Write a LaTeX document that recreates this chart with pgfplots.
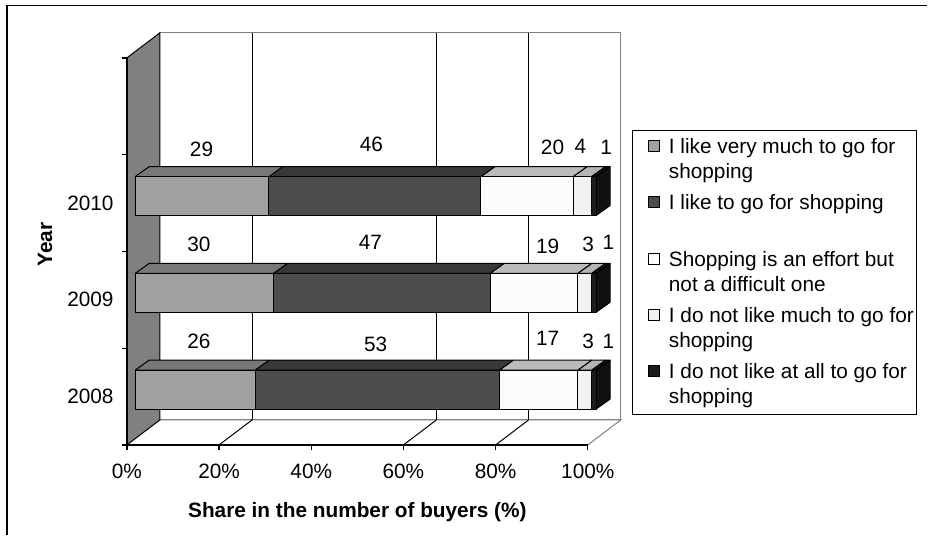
\documentclass[border=0pt]{standalone}
\usepackage{pgfplots}
\pgfplotsset{compat=1.18}
\usepackage{fontspec}
\setmainfont{Liberation Sans}

\definecolor{c1}{RGB}{160,160,160}\definecolor{c1t}{RGB}{120,120,120}
\definecolor{c2}{RGB}{77,77,77}\definecolor{c2t}{RGB}{56,56,56}
\definecolor{c3}{RGB}{252,252,252}\definecolor{c3t}{RGB}{187,187,187}
\definecolor{c4}{RGB}{242,242,242}\definecolor{c4t}{RGB}{180,180,180}
\definecolor{c5}{RGB}{28,28,28}\definecolor{c5t}{RGB}{17,17,17}
\definecolor{wallgray}{RGB}{128,128,128}

\newcommand\fnt{\fontsize{12.5}{15}\selectfont}
\newcommand\hrow[1]{\rule{0pt}{#1}}

\def\myxo{1.8}\def\mybs{0.072}\def\mybw{0.402}\def\mytdx{3.035}\def\mytdy{0.103}
\def\myDX{7.15}\def\myDY{0.258}

% top face of a segment: #1 category, #2 start, #3 end (cumulative), #4 colour
\newcommand\topface[4]{%
  \filldraw[fill=#4, draw=black, line width=0.6pt, line join=round]
   (axis cs:{\myxo+#2},{#1+\mybs+\mybw/2}) -- (axis cs:{\myxo+#2+\mytdx},{#1+\mybs+\mybw/2+\mytdy})
   -- (axis cs:{\myxo+#3+\mytdx},{#1+\mybs+\mybw/2+\mytdy}) -- (axis cs:{\myxo+#3},{#1+\mybs+\mybw/2}) -- cycle;}
\newcommand\sideface[2]{%
  \filldraw[fill=#2, draw=black, line width=0.6pt, line join=round]
   (axis cs:{\myxo+100},{#1+\mybs-\mybw/2}) -- (axis cs:{\myxo+100},{#1+\mybs+\mybw/2})
   -- (axis cs:{\myxo+100+\mytdx},{#1+\mybs+\mybw/2+\mytdy}) -- (axis cs:{\myxo+100+\mytdx},{#1+\mybs-\mybw/2+\mytdy}) -- cycle;}
\newcommand\gridat[1]{%
  \draw[black, line width=0.6pt] (axis cs:{#1+\myDX},{-0.5+\myDY}) -- (axis cs:{#1+\myDX},{3.5+\myDY});
  \draw[black, line width=0.6pt] (axis cs:#1,-0.5) -- (axis cs:{#1+\myDX},{-0.5+\myDY});}

\pgfplotsset{base/.style={scale only axis, width=277.2pt, height=232.8pt,
  xmin=0, xmax=100, ymin=-0.5, ymax=3.5, clip=false}}

\begin{document}
\begin{tikzpicture}
% ---------- walls, floor and grid ----------
\begin{axis}[base, hide axis]
\path (axis cs:-27.53,-1.428) rectangle (axis cs:173.63,4.098);
\draw[black, line width=1pt] (axis cs:-26.0,-1.428) -- (axis cs:-26.0,4.041) -- (axis cs:173.63,4.041);
\draw[wallgray, line width=0.6pt] (axis cs:\myDX,{-0.5+\myDY}) rectangle (axis cs:{100+\myDX},{3.5+\myDY});
\draw[wallgray, line width=0.6pt] (axis cs:100,-0.5) -- (axis cs:{100+\myDX},{-0.5+\myDY}) -- (axis cs:\myDX,{-0.5+\myDY});
\filldraw[fill=wallgray, draw=black, line width=0.6pt] (axis cs:0,-0.5) -- (axis cs:0,3.5) -- (axis cs:\myDX,{3.5+\myDY}) -- (axis cs:\myDX,{-0.5+\myDY}) -- cycle;
\gridat{20}\gridat{60}\gridat{80}
\end{axis}
% ---------- bars, axes, legend ----------
\begin{axis}[base,
  axis x line*=bottom, axis y line*=left,
  axis line style={black, line width=0.8pt, -},
  xtick={0,20,40,60,80,100}, xticklabels={0\%,20\%,40\%,60\%,80\%,100\%},
  ytick={-0.5,0.5,1.5,2.5,3.5}, yticklabels={},
  extra y ticks={0,1,2}, extra y tick labels={2008,2009,2010},
  extra y tick style={major tick length=0pt},
  tick align=outside, major tick length=3pt,
  tick style={black, line width=0.8pt},
  ticklabel style={font=\fnt},
  yticklabel style={xshift=-4.5pt},
  xticklabel style={yshift=-5pt},
  xlabel={Share in the number of buyers (\%)},
  ylabel={Year},
  xlabel style={at={(rel axis cs:0.5,-0.173)}, anchor=center, font=\fnt\bfseries},
  ylabel style={at={(rel axis cs:-0.1775,0.518)}, anchor=center, font=\fnt\bfseries},
  xbar stacked, bar width=0.402, bar shift=0.072,
  legend style={at={(1.095,0.8145)}, anchor=north west, draw=black, line width=0.6pt,
    inner xsep=1.5pt, inner ysep=4.7pt, row sep=0pt, column sep=5.4pt,
    cells={anchor=base west},
    nodes={inner sep=0pt, text depth=2pt, font=\fnt}},
  legend image code/.code={\path (0pt,0pt); \draw[#1, draw=black, line width=0.5pt] (8.1pt,1.2pt) rectangle (14.7pt,7.8pt);},
]
\addplot[draw=none, fill=none, forget plot] coordinates {(1.8,0) (1.8,1) (1.8,2)};
\addplot[fill=c1, draw=black, line width=0.6pt] coordinates {(26,0) (30,1) (29,2)};
\addlegendentry{\hrow{9.5pt}I like very much to go for}
\addlegendimage{empty legend}
\addlegendentry{\hrow{13pt}shopping}
\addplot[fill=c2, draw=black, line width=0.6pt] coordinates {(53,0) (47,1) (46,2)};
\addlegendentry{\hrow{16.6pt}I like to go for shopping}
\addplot[fill=c3, draw=black, line width=0.6pt] coordinates {(17,0) (19,1) (20,2)};
\addlegendentry{\hrow{32.2pt}Shopping is an effort but}
\addlegendimage{empty legend}
\addlegendentry{\hrow{13pt}not a difficult one}
\addplot[fill=c4, draw=black, line width=0.6pt] coordinates {(3,0) (3,1) (4,2)};
\addlegendentry{\hrow{16.6pt}I do not like much to go for}
\addlegendimage{empty legend}
\addlegendentry{\hrow{13pt}shopping}
\addplot[fill=c5, draw=black, line width=0.6pt] coordinates {(1,0) (1,1) (1,2)};
\addlegendentry{\hrow{16.6pt}I do not like at all to go for}
\addlegendimage{empty legend}
\addlegendentry{\hrow{13pt}shopping}
% top and side faces
\topface{2}{0}{29}{c1t}\topface{2}{29}{75}{c2t}\topface{2}{75}{95}{c3t}\topface{2}{95}{99}{c4t}\topface{2}{99}{100}{c5t}
\topface{1}{0}{30}{c1t}\topface{1}{30}{77}{c2t}\topface{1}{77}{96}{c3t}\topface{1}{96}{99}{c4t}\topface{1}{99}{100}{c5t}
\topface{0}{0}{26}{c1t}\topface{0}{26}{79}{c2t}\topface{0}{79}{96}{c3t}\topface{0}{96}{99}{c4t}\topface{0}{99}{100}{c5t}
\sideface{2}{c5t}\sideface{1}{c5t}\sideface{0}{c5t}
\end{axis}
% ---------- value labels ----------
\begin{axis}[base, hide axis]
\addplot[only marks, mark=*, mark size=0pt, mark options={draw=none, fill=none},
  nodes near coords, point meta=explicit symbolic,
  every node near coord/.append style={anchor=center, inner sep=0pt, font=\fnt, text=black}]
  table[meta=lab] {
x y lab
16.19 2.552 29
53.05 2.603 46
92.35 2.572 20
98.42 2.586 4
103.99 2.572 1
15.61 1.572 30
52.83 1.596 47
91.27 1.555 19
100.09 1.572 3
104.49 1.596 1
15.61 0.575 26
53.98 0.541 53
91.27 0.603 17
100.09 0.575 3
104.49 0.575 1
};
\end{axis}
\end{tikzpicture}
\end{document}
